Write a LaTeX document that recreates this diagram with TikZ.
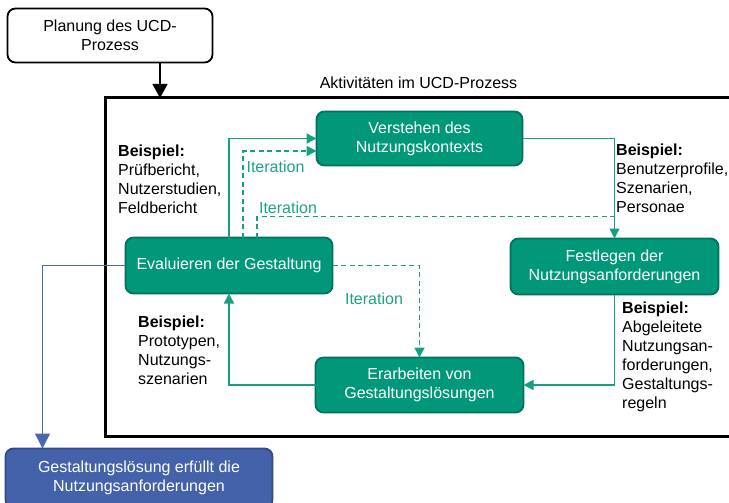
\documentclass[tikz,border=0pt]{standalone}
\usepackage{fontspec}
\setmainfont{Liberation Sans}
\usetikzlibrary{arrows.meta,calc}
\definecolor{tealfill}{HTML}{009879}
\definecolor{tealdark}{HTML}{00725D}
\definecolor{tealline}{HTML}{15A084}
\definecolor{iterlbl}{HTML}{1AA58A}
\definecolor{bluefill}{HTML}{4462AA}
\definecolor{bluedark}{HTML}{2F4B8C}
\definecolor{blueline}{HTML}{4A67B0}
\begin{document}
\begin{tikzpicture}[x=1pt,y=-1pt,
  font=\fontsize{16}{19}\selectfont,
  activity/.style={draw=tealdark, fill=tealfill, line width=1.8pt,
    rounded corners=8pt, text=white, align=center, inner sep=0pt, outer sep=0pt},
  startbox/.style={draw=black, fill=white, line width=1.8pt,
    rounded corners=8pt, align=center, inner sep=0pt, outer sep=0pt},
  goalbox/.style={draw=bluedark, fill=bluefill, line width=1.8pt,
    rounded corners=8pt, text=white, align=center, inner sep=0pt, outer sep=0pt},
  example/.style={anchor=north west, align=left, inner sep=0pt},
  iterlabel/.style={text=iterlbl, inner sep=0pt},
  flow/.style={draw=tealline, line width=1.5pt, -{Triangle[length=10pt,width=10pt]}},
  iterflow/.style={flow, dash pattern=on 5pt off 3.5pt},
  iterjoin/.style={draw=tealline, line width=1.5pt, dash pattern=on 5pt off 3.5pt},
  blueflow/.style={draw=blueline, line width=1.5pt, -{Triangle[length=15pt,width=15pt]}},
  blackflow/.style={draw=black, line width=1.5pt, -{Triangle[length=14pt,width=15pt]}}
]
\clip (0,0) rectangle (729,503);
\fill[white] (0,0) rectangle (729,503);

% process frame (continues past the right edge)
\node[draw=black, line width=3pt, inner sep=0pt, outer sep=0pt, anchor=north west,
      minimum width=700pt, minimum height=338.5pt] (frame) at (105.5,98) {};
\node[inner sep=0pt] (framelabel) at (418.5,83) {Aktivitäten im UCD-Prozess};

% boxes
\node[startbox, minimum width=205pt, minimum height=54pt] (plan) at (110,35.5)
  {Planung des UCD-\\Prozess};
\node[activity, minimum width=206pt, minimum height=54pt] (verst) at (419.5,138.5)
  {Verstehen des\\Nutzungskontexts};
\node[activity, minimum width=208pt, minimum height=56pt] (fest) at (614.5,266.5)
  {Festlegen der\\Nutzungsanforderungen};
\node[activity, minimum width=208pt, minimum height=55pt] (erarb) at (419.5,385)
  {Erarbeiten von\\Gestaltungslösungen};
\node[activity, minimum width=207pt, minimum height=56pt] (eval) at (229,265.5)
  {Evaluieren der Gestaltung};
\node[goalbox, minimum width=267pt, minimum height=59pt] (ziel) at (139,478)
  {Gestaltungslösung erfüllt die\\Nutzungsanforderungen};

% example notes
\node[example] (ex1) at (118,144.5)
  {\textbf{Beispiel:}\\Prüfbericht,\\Nutzerstudien,\\Feldbericht};
\node[example] (ex2) at (616,143.5)
  {\textbf{Beispiel:}\\Benutzerprofile,\\Szenarien,\\Personae};
\node[example] (ex3) at (138,315.5)
  {\textbf{Beispiel:}\\Prototypen,\\Nutzungs-\\szenarien};
\node[example] (ex4) at (622,301.5)
  {\textbf{Beispiel:}\\Abgeleitete\\Nutzungsan-\\forderungen,\\Gestaltungs-\\regeln};

% iteration labels
\node[iterlabel] (it1) at (275.5,166.5) {Iteration};
\node[iterlabel] (it2) at (288,208) {Iteration};
\node[iterlabel] (it3) at (374,299) {Iteration};

% start arrow into the frame
\coordinate (pin) at ($(plan.south)+(50,0)$);
\draw[blackflow] (pin) -- (pin |- frame.north);

% main cycle
\draw[flow] (eval.north) |- (verst.west);
\draw[flow] (verst.east) -| (fest.north);
\draw[flow] (fest.south) |- (erarb.east);
\draw[flow] (erarb.west) -| (eval.south);

% iterations
\draw[iterflow] ($(eval.north)+(14,0)$) |- ($(verst.west)+(0,12.5)$);
\coordinate (join) at ($(fest.north)+(0,-22)$);
\draw[iterjoin] ($(eval.north)+(28,0)$) |- (join);
\draw[iterflow] (eval.east) -| (erarb.north);

% exit to the result
\coordinate (exitpt) at ($(ziel.north west)+(37,0)$);
\draw[blueflow] (eval.west) -| (exitpt);
\end{tikzpicture}
\end{document}
